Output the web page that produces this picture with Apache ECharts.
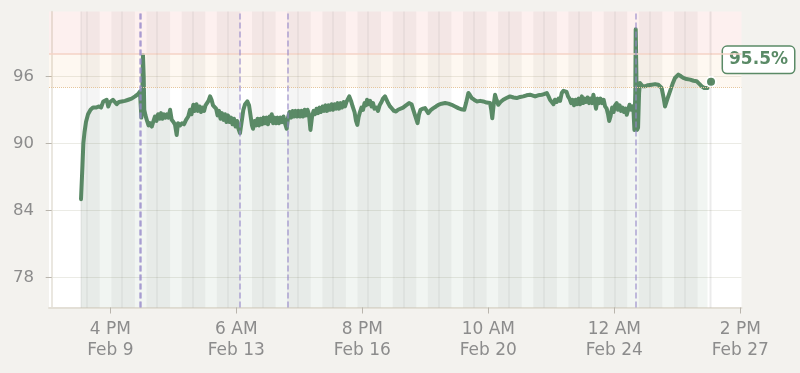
<!DOCTYPE html>
<html><head><meta charset="utf-8">
<script src="https://cdn.jsdelivr.net/npm/echarts@6/dist/echarts.min.js"></script>
<style>html,body{margin:0;padding:0;background:#f3f2ee}#c{width:800px;height:373px}</style>
</head><body><div id="c"></div>
<script>
// hours since Feb 8 00:00
const hours = [20.0,20.5,21.0,21.6,22.4,23.4,24.8,26.5,28.2,30.2,32.3,33.7,35.2,36.4,37.5,38.6,39.8,40.8,41.8,42.7,44.4,45.9,47.8,50.0,52.3,54.5,56.9,58.9,60.3,60.7,61.2,61.8,62.3,62.8,63.2,64.0,65.1,66.1,67.1,68.3,69.5,70.5,71.5,72.6,73.6,74.6,75.6,76.7,77.7,78.7,79.7,80.8,81.9,83.1,84.2,85.3,86.2,87.6,88.9,90.3,91.7,93.2,94.4,95.4,96.7,97.8,98.8,99.9,100.9,101.9,103.0,104.0,105.0,106.0,107.0,108.1,109.1,110.1,111.1,
112.2,113.2,114.2,115.2,116.2,117.3,118.3,119.3,120.3,121.4,122.4,123.4,124.4,125.5,126.5,127.5,128.5,
129.5,130.8,132.0,133.5,134.7,135.7,136.7,137.4,138.4,139.5,140.5,141.5,142.5,143.5,144.6,145.6,146.6,147.6,148.7,149.7,150.2,151.1,152.1,153.1,154.1,155.1,156.2,157.2,158.2,159.2,160.4,161.3,162.3,163.4,164.4,165.4,166.4,167.4,168.5,169.5,170.6,171.5,172.6,173.6,174.6,175.6,176.6,177.7,178.7,179.7,180.8,181.8,182.8,183.8,184.9,185.9,186.9,187.9,189.0,190.0,191.0,192.0,193.0,194.1,195.1,196.1,197.1,198.2,199.2,200.2,201.2,202.3,203.1,204.3,205.4,206.7,207.7,208.6,209.4,210.4,211.4,212.5,213.5,214.5,215.2,216.2,217.3,218.3,219.3,220.3,221.7,222.7,223.8,225.1,226.1,227.5,228.5,229.6,230.9,232.3,233.6,235.0,236.4,237.7,239.8,241.8,243.9,245.6,246.8,248.0,249.7,250.7,251.7,253.4,254.8,257.0,258.9,260.5,262.3,263.9,266.1,268.5,270.8,273.0,275.3,277.5,279.4,281.6,282.8,284.4,285.5,286.7,288.3,290.1,292.4,294.6,296.8,299.2,300.0,300.7,301.6,302.6,303.6,304.8,306.3,308.2,310.4,312.8,315.2,317.4,319.7,321.9,324.1,326.5,329.9,332.0,334.5,336.0,337.9,339.1,340.1,341.3,342.5,343.5,344.7,345.9,347.0,348.1,349.3,350.4,351.4,352.4,353.4,354.5,355.5,356.5,357.5,358.6,359.6,360.6,361.8,362.7,363.7,364.7,365.7,366.8,367.8,368.8,369.7,370.5,371.5,372.6,373.6,374.6,375.6,376.7,377.7,378.8,379.7,380.5,381.4,382.5,383.5,384.5,385.6,386.5,387.6,388.6,389.6,390.6,391.7,392.5,393.4,394.4,395.4,396.4,397.1,397.7,398.3,398.6,399.0,399.5,400.2,400.9,401.5,403.3,405.0,407.0,409.5,411.8,414.0,415.2,416.3,417.6,418.6,420.3,422.0,423.7,425.4,427.7,429.5,431.1,433.3,435.7,438.1,440.2,442.2,443.7,445.4,447.6];
const spo2 = [85.0,86.5,88.0,90.0,91.0,91.9,92.6,93.0,93.2,93.2,93.3,93.2,93.75,93.6,93.9,93.3,93.7,93.6,93.9,94.05,93.5,93.7,93.75,93.8,93.9,94.0,94.2,94.4,94.65,93.5,92.3,94.0,97.9,96.0,93.0,92.5,92.0,91.6,91.8,91.5,92.0,92.4,92.0,92.6,92.2,92.7,92.2,92.6,92.3,92.6,92.3,93.0,92.1,91.9,91.65,90.75,91.8,91.6,91.8,91.7,92.1,92.4,93.0,92.6,93.45,92.9,93.5,92.9,93.3,92.8,93.2,92.9,93.4,93.3,93.8,94.2,93.9,93.4,93.3,
93.1,92.5,92.9,92.2,92.7,92.1,92.6,91.9,92.5,91.9,92.3,91.7,92.2,91.5,92.0,91.3,90.9,
91.8,93.0,93.5,93.75,93.4,92.5,91.6,91.3,92.0,91.6,92.2,91.6,92.2,91.7,92.3,91.8,92.3,91.7,92.4,92.0,92.6,91.8,92.3,91.8,92.3,91.8,92.3,91.9,92.4,91.8,91.3,92.3,92.8,92.3,92.9,92.4,92.9,92.4,92.9,92.4,92.9,92.4,93.0,92.5,93.0,92.6,91.2,92.4,92.9,92.6,93.1,92.7,93.2,92.8,93.3,92.9,93.4,92.9,93.4,93.0,93.5,93.0,93.5,93.1,93.6,93.1,93.6,93.2,93.7,93.3,93.7,93.7,94.2,93.8,93.3,92.8,92.0,91.65,92.3,92.8,93.2,93.0,93.6,93.4,93.9,93.5,93.8,93.3,93.6,93.1,93.2,92.9,93.4,93.7,94.0,94.2,93.9,93.6,93.3,93.1,92.9,92.85,93.0,93.0,93.2,93.4,93.6,93.5,93.0,92.5,91.8,92.6,93.0,93.1,93.15,92.7,93.0,93.15,93.3,93.45,93.55,93.6,93.55,93.45,93.3,93.15,93.05,93.0,93.6,94.5,94.3,94.05,93.9,93.75,93.8,93.75,93.65,93.6,93.0,92.25,93.4,94.35,93.9,93.45,93.7,93.9,94.05,94.2,94.1,94.05,94.15,94.2,94.3,94.35,94.2,94.3,94.35,94.4,94.5,94.2,93.9,93.75,93.5,93.9,93.7,94.0,93.8,94.5,94.7,94.8,94.6,94.2,94.0,93.6,93.9,93.4,93.9,93.5,94.0,93.5,94.2,93.6,94.0,93.7,94.1,93.6,94.0,93.6,94.35,93.8,93.1,94.0,93.6,94.0,93.6,93.9,93.3,93.1,92.6,92.0,92.4,93.2,92.8,93.4,93.6,93.0,93.4,92.9,93.2,92.8,93.1,92.55,93.0,93.45,93.0,93.3,92.9,91.2,94.5,100.2,97.0,91.2,91.4,94.5,95.4,95.1,95.1,95.2,95.25,95.3,95.25,95.15,94.95,94.1,93.3,94.0,94.65,95.3,95.85,96.15,96.0,95.85,95.75,95.7,95.6,95.55,95.3,95.1,94.95,94.95];
const latestHour = 450;
const latestValue = 95.5;
const eventHours = [60.4, 60.6, 128.3, 161.3, 398.8];
const tickHours = [40, 126, 212, 298, 384, 470];
const yTicks = [78, 84, 90, 96];
const highLimit = 98;
const lowLimit = 95;

const FONT = 'DejaVu Sans';
const GREEN = '#5a8a66';
const yMin = 75.3, yMax = 101.8;
const xMin = -1.84, xMax = 470.8;
const baseMs = Date.UTC(2025, 1, 8);
const MONTHS = ['Jan','Feb','Mar','Apr','May','Jun','Jul','Aug','Sep','Oct','Nov','Dec'];
function fmtHour(h) {
  const d = new Date(baseMs + h * 3600e3);
  const hr = d.getUTCHours();
  const h12 = hr % 12 === 0 ? 12 : hr % 12;
  return h12 + ' ' + (hr < 12 ? 'AM' : 'PM') + '\n' + MONTHS[d.getUTCMonth()] + ' ' + d.getUTCDate();
}

// day/night shading over the data range
const dataStart = hours[0], dataEnd = latestHour;
const lightStart = 8.8, lightEnd = 16.7;
const shade = [];
let cur = dataStart;
for (let day = 0; day < 20; day++) {
  const ls = day * 24 + lightStart, le = day * 24 + lightEnd;
  if (le <= dataStart) continue;
  if (ls >= dataEnd) break;
  if (ls > cur) shade.push([{xAxis: cur}, {xAxis: ls}]);
  cur = Math.max(cur, le);
}
if (cur < dataEnd) shade.push([{xAxis: cur}, {xAxis: dataEnd}]);
const dayLines = [{xAxis: dataStart}];
for (let m = 24; m < dataEnd; m += 24) if (m > dataStart) dayLines.push({xAxis: m});
dayLines.push({xAxis: dataEnd});

const chart = echarts.init(document.getElementById('c'), null, {renderer: 'canvas'});
chart.setOption({
  animation: false,
  backgroundColor: '#f3f2ee',
  textStyle: {fontFamily: FONT},
  grid: {left: 49, right: 58.5, top: 11.5, bottom: 65.5, show: true, backgroundColor: '#fff', borderWidth: 0, outerBoundsMode: 'none', containLabel: false},
  xAxis: {
    type: 'value', min: xMin, max: xMax,
    axisLine: {show: true, lineStyle: {color: '#e3dfd6', width: 2}},
    axisTick: {show: true, length: 6, customValues: tickHours, lineStyle: {color: '#b9b5ad', width: 1}},
    axisLabel: {customValues: tickHours, formatter: v => fmtHour(v), color: '#8c8c8c', fontSize: 17, lineHeight: 21, margin: 12, fontFamily: FONT},
    splitLine: {show: false}
  },
  yAxis: {
    type: 'value', min: yMin, max: yMax,
    axisLine: {show: true, lineStyle: {color: '#e3dfd6', width: 1.5}},
    axisTick: {show: true, length: 6, customValues: yTicks, lineStyle: {color: '#b9b5ad', width: 1}},
    axisLabel: {customValues: yTicks, color: '#8c8c8c', fontSize: 16.5, margin: 15, fontFamily: FONT},
    splitLine: {show: true, lineStyle: {color: '#ebebe5', width: 1}}
  },
  series: [
    {
      type: 'line', data: [], z: 1, silent: true,
      markArea: {
        silent: true,
        data: [
          [{yAxis: highLimit, itemStyle: {color: 'rgba(230,80,70,0.085)'}}, {yAxis: yMax}],
          [{yAxis: lowLimit, itemStyle: {color: 'rgba(245,170,80,0.08)'}}, {yAxis: highLimit}]
        ].concat(shade.map(s => [Object.assign({itemStyle: {color: 'rgba(60,60,50,0.05)'}}, s[0]), s[1]]))
      },
      markLine: {
        silent: true, symbol: ['none', 'none'], label: {show: false},
        data: [
          {yAxis: highLimit, lineStyle: {color: '#f5d3c6', width: 1.5, type: 'solid'}},
          {yAxis: lowLimit, lineStyle: {color: '#e6c69c', width: 1, type: 'dotted'}}
        ].concat(dayLines.map(d => Object.assign({lineStyle: {color: 'rgba(60,60,50,0.07)', width: 1.5, type: 'solid'}}, d)))
         .concat(eventHours.map(h => ({xAxis: h, lineStyle: {color: 'rgba(150,135,200,0.75)', width: 1.5, type: [6, 3]}})))
      }
    },
    {
      type: 'line', z: 3, silent: true,
      data: hours.map((h, i) => [h, spo2[i]]),
      symbol: 'none', smooth: false,
      lineStyle: {color: GREEN, width: 4, join: 'round', cap: 'round'},
      areaStyle: {color: 'rgba(90,138,104,0.12)', origin: 'start'}
    },
    {
      type: 'scatter', z: 4, silent: true,
      data: [[latestHour, latestValue]],
      symbolSize: 10,
      itemStyle: {color: GREEN, borderColor: '#fff', borderWidth: 2, opacity: 1},
      label: {
        show: true, position: 'right', distance: 6, offset: [0, -22],
        formatter: p => p.value[1].toFixed(1) + '%',
        color: GREEN, fontWeight: 'bold', fontSize: 17, lineHeight: 20, fontFamily: FONT,
        backgroundColor: '#fff', borderColor: GREEN, borderWidth: 1.5, borderRadius: 4, padding: [3, 6]
      }
    }
  ]
});
</script></body></html>
